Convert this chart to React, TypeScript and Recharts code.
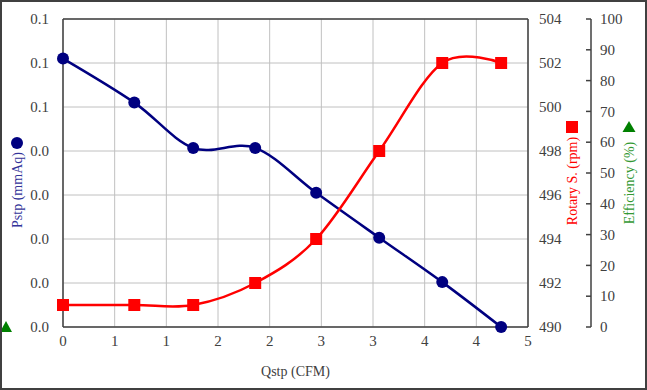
import {
  ComposedChart,
  Line,
  XAxis,
  YAxis,
  CartesianGrid,
  ReferenceLine,
} from "recharts";

// 風量 (CFM)
const qstp = [0, 0.69, 1.26, 1.86, 2.45, 3.06, 3.67, 4.24];
// 靜壓 (mmAq)
const pstp = [0.061, 0.051, 0.0407, 0.0407, 0.0305, 0.0203, 0.0102, 0];
// 轉速 (rpm)
const rpm = [491, 491, 491, 492, 494, 498, 502, 502];

const xTicks = [0, 0.5, 1, 1.5, 2, 2.5, 3, 3.5, 4, 4.5];
const pTicks = [0, 0.01, 0.02, 0.03, 0.04, 0.05, 0.06, 0.07];
const rTicks = [490, 492, 494, 496, 498, 500, 502, 504];
const eTicks = [0, 10, 20, 30, 40, 50, 60, 70, 80, 90, 100];

const rows = qstp.map((q, i) => ({ q, p: pstp[i], r: rpm[i] }));

const FONT = '"Liberation Serif", Tinos, "Times New Roman", serif';
const INK = "#404040";
const tickStyle = { fill: INK, fontSize: 15, fontFamily: FONT };

// axis ids: 0 = 靜壓 (left), 1 = 轉速, 2 = 效率
const P_AXIS = 0;
const R_AXIS = 1;
const E_AXIS = 2;

// Excel 風格的平滑線 (Catmull-Rom, 同 d3 cardinal tension 0)
function smooth(context: any) {
  const k = 1 / 6;
  let x0 = NaN, y0 = NaN, x1 = NaN, y1 = NaN, x2 = NaN, y2 = NaN;
  let pt = 0;
  let line = NaN;
  const seg = (x: number, y: number) => {
    context.bezierCurveTo(
      x1 + k * (x2 - x0),
      y1 + k * (y2 - y0),
      x2 + k * (x1 - x),
      y2 + k * (y1 - y),
      x2,
      y2
    );
  };
  return {
    areaStart() { line = 0; },
    areaEnd() { line = NaN; },
    lineStart() {
      x0 = x1 = x2 = y0 = y1 = y2 = NaN;
      pt = 0;
    },
    lineEnd() {
      if (pt === 2) context.lineTo(x2, y2);
      else if (pt === 3) seg(x1, y1);
      if (line || (line !== 0 && pt === 1)) context.closePath();
      line = 1 - line;
    },
    point(x: number, y: number) {
      x = +x; y = +y;
      if (pt === 0) {
        pt = 1;
        line ? context.lineTo(x, y) : context.moveTo(x, y);
      } else if (pt === 1) {
        pt = 2;
        x1 = x; y1 = y;
      } else {
        pt = 3;
        seg(x, y);
      }
      x0 = x1; x1 = x2; x2 = x;
      y0 = y1; y1 = y2; y2 = y;
    },
  };
}

function squareDot(props: any) {
  const { cx, cy, index } = props;
  return <rect key={`sq-${index}`} x={cx - 6} y={cy - 6} width={12} height={12} fill="#ff0000" />;
}

function EffTick(props: any) {
  const { x, y, payload } = props;
  return (
    <g>
      <line x1={x - 14} x2={x - 9} y1={y} y2={y} stroke={INK} strokeWidth={1.5} />
      <text x={x} y={y} dy="0.35em" textAnchor="start" {...tickStyle}>
        {payload.value}
      </text>
    </g>
  );
}

export default function App() {
  return (
    <div style={{ position: "absolute", left: 0, top: 0, width: 647, height: 390, background: "#fff", fontFamily: FONT }}>
      <ComposedChart width={647} height={390} data={rows} margin={{ top: 19, right: 0, bottom: 0, left: 0 }}>
        <CartesianGrid yAxisId={P_AXIS} stroke="#c0c0c0" strokeWidth={1} />
        <XAxis
          dataKey="q"
          type="number"
          domain={[0, 4.5]}
          ticks={xTicks}
          tickFormatter={(v: number) => String(Math.round(v))}
          height={63}
          axisLine={{ stroke: INK, strokeWidth: 1.5 }}
          tickLine={false}
          tickSize={0}
          tickMargin={8}
          tick={tickStyle}
          label={{ value: "Qstp (CFM)", position: "insideBottom", offset: 14, fill: INK, fontSize: 14, fontFamily: FONT }}
        />
        <YAxis
          yAxisId={P_AXIS}
          orientation="left"
          width={63}
          domain={[0, 0.07]}
          ticks={pTicks}
          tickFormatter={(v: number) => v.toFixed(1)}
          axisLine={{ stroke: INK, strokeWidth: 1.5 }}
          tickLine={false}
          tickSize={0}
          tickMargin={14}
          tick={tickStyle}
        />
        <YAxis
          yAxisId={R_AXIS}
          orientation="right"
          width={63}
          domain={[490, 504]}
          ticks={rTicks}
          axisLine={{ stroke: INK, strokeWidth: 1.5 }}
          tickLine={false}
          tickSize={0}
          tickMargin={11}
          tick={tickStyle}
        />
        <YAxis
          yAxisId={E_AXIS}
          orientation="right"
          width={56}
          domain={[0, 100]}
          allowDataOverflow
          ticks={eTicks}
          axisLine={{ stroke: INK, strokeWidth: 1.5 }}
          tickLine={false}
          tickSize={0}
          tickMargin={9}
          tick={<EffTick />}
        />
        <ReferenceLine yAxisId={P_AXIS} y={0.07} stroke={INK} strokeWidth={1.5} />
        <Line
          yAxisId={P_AXIS}
          dataKey="p"
          type={smooth as any}
          stroke="#000080"
          strokeWidth={2.5}
          dot={{ r: 6, fill: "#000080", stroke: "none" }}
          isAnimationActive={false}
        />
        <Line
          yAxisId={R_AXIS}
          dataKey="r"
          type={smooth as any}
          stroke="#ff0000"
          strokeWidth={2.5}
          dot={squareDot}
          isAnimationActive={false}
        />
        {/* 效率 (%) 無量測資料 */}
        <Line yAxisId={E_AXIS} dataKey="e" stroke="#008000" dot={false} isAnimationActive={false} />
      </ComposedChart>
      <svg
        width={647}
        height={390}
        style={{ position: "absolute", left: 0, top: 0, pointerEvents: "none" }}
      >
        <circle cx={17} cy={143} r={6} fill="#000080" />
        <text
          transform="translate(22 190) rotate(-90)"
          textAnchor="middle"
          fill="#333399"
          fontSize={14}
          fontFamily={FONT}
        >
          Pstp (mmAq)
        </text>
        <rect x={566} y={121} width={12} height={12} fill="#ff0000" />
        <text
          transform="translate(577 181) rotate(-90)"
          textAnchor="middle"
          fill="#ff0000"
          fontSize={14}
          fontFamily={FONT}
        >
          Rotary S. (rpm)
        </text>
        <polygon points="622.5,132 635.5,132 629,121" fill="#008000" />
        <text
          transform="translate(634 183) rotate(-90)"
          textAnchor="middle"
          fill="#339933"
          fontSize={14}
          fontFamily={FONT}
        >
          Efficiency (%)
        </text>
        <polygon points="0,332 12,332 6,321" fill="#008000" />
        <rect x={1} y={1} width={645} height={388} fill="none" stroke={INK} strokeWidth={2} />
      </svg>
    </div>
  );
}
